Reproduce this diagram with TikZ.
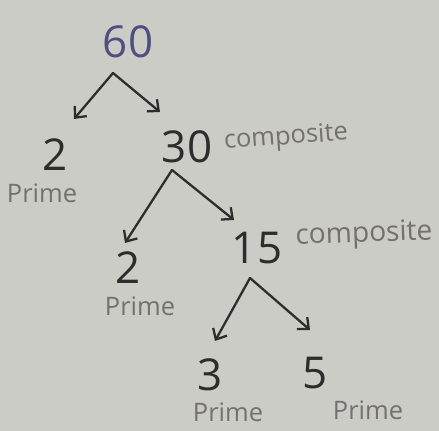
\documentclass[tikz,border=0pt]{standalone}
\usepackage{fontspec}
\setmainfont{Open Sans}
\usetikzlibrary{arrows.meta}
\definecolor{paper}{RGB}{204,204,198}
\definecolor{ink}{RGB}{45,45,45}
\definecolor{blueink}{RGB}{80,78,130}
\definecolor{pencil}{RGB}{115,112,110}
\begin{document}
\begin{tikzpicture}[x=0.02cm,y=-0.02cm,
  num/.style={text=ink,font=\fontsize{25}{25}\selectfont,inner sep=0pt},
  lbl/.style={text=pencil,font=\fontsize{14.5}{14.5}\selectfont,inner sep=0pt},
  arr/.style={draw=ink,line width=1.3pt,line cap=round,line join=round,-{Straight Barb[length=5pt,width=9pt,line width=1.3pt]}}]
\fill[paper] (0,0) rectangle (439,431);
\useasboundingbox (0,0) rectangle (439,431);
% nodes
\node[num,text=blueink] (n60) at (128,42) {60};
\node[num] (n2a) at (55,155) {2};
\node[lbl] (p2a) at (42,193) {Prime};
\node[num] (n30) at (187,147) {30};
\node[lbl,rotate=4] (c30) at (286,138) {composite};
\node[num] (n2b) at (128,268) {2};
\node[lbl] (p2b) at (140,306) {Prime};
\node[num] (n15) at (257,248) {15};
\node[lbl,rotate=2,font=\fontsize{16}{16}\selectfont] (c15) at (364,235) {composite};
\node[num] (n3) at (210,375) {3};
\node[lbl] (p3) at (228,412) {Prime};
\node[num] (n5) at (315,373) {5};
\node[lbl] (p5) at (368,410) {Prime};
% apexes and arrow ends
\coordinate (a60) at (113,73);
\coordinate (e60l) at (74,119);
\coordinate (e60r) at (160,112);
\coordinate (a30) at (172,170);
\coordinate (e30l) at (125,243);
\coordinate (e30r) at (234,220);
\coordinate (a15) at (250,278);
\coordinate (e15l) at (215,341);
\coordinate (e15r) at (310,330);
% connectors
\draw[arr] (a60) -- (e60l);
\draw[arr] (a60) -- (e60r);
\draw[arr] (a30) -- (e30l);
\draw[arr] (a30) -- (e30r);
\draw[arr] (a15) -- (e15l);
\draw[arr] (a15) -- (e15r);
\end{tikzpicture}
\end{document}
